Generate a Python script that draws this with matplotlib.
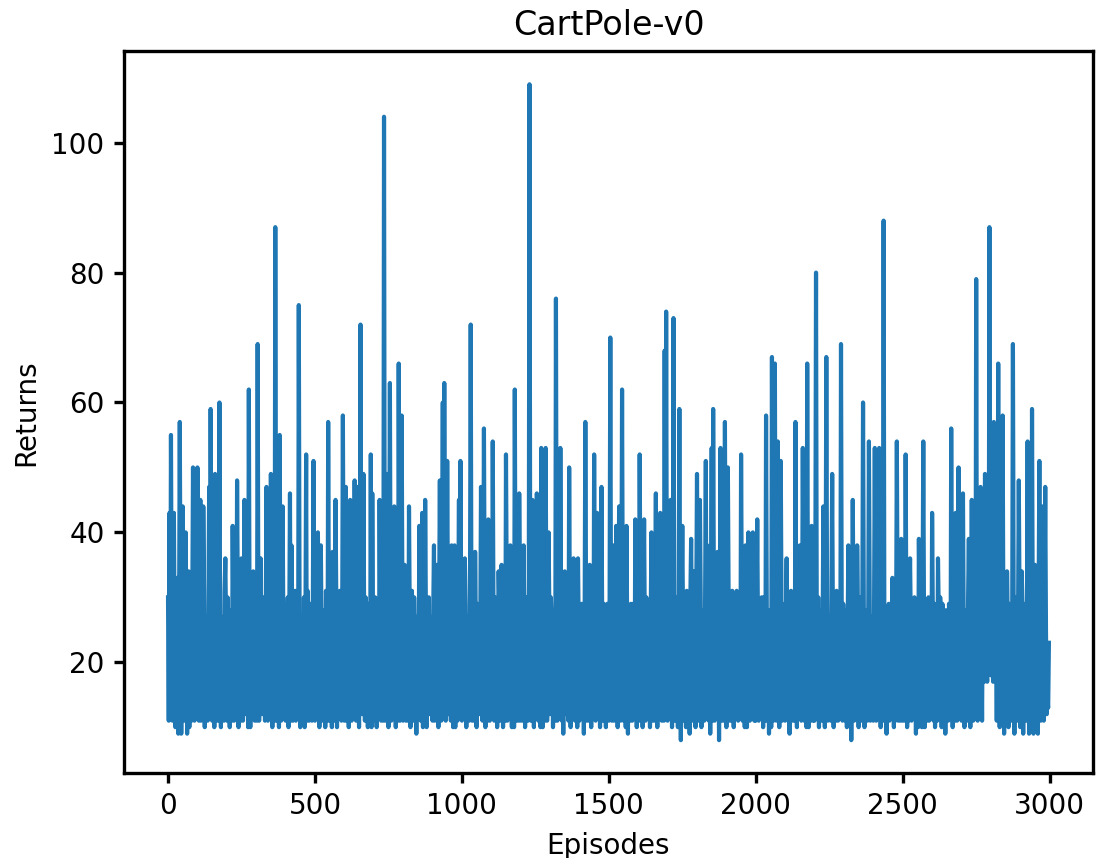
import numpy as np
import matplotlib
matplotlib.use('Agg')
import matplotlib.pyplot as plt

# Returns per episode, one reading every 2.5 episodes,
# 40 readings per 100 episodes on each line
returns = [
    30, 11, 43, 12, 55, 26, 11, 30, 43, 23, 10, 28, 24, 33, 9, 25, 57, 29, 9, 22, 44, 31, 11, 27, 40, 26, 9, 30, 34, 10, 22, 23, 11, 28, 50, 33, 11, 25, 25, 13,
    50, 29, 11, 22, 45, 11, 22, 12, 44, 31, 10, 26, 27, 24, 11, 30, 47, 12, 59, 28, 11, 33, 25, 10, 49, 11, 41, 25, 11, 29, 60, 23, 10, 27, 22, 24, 11, 31, 36, 26,
    11, 30, 26, 24, 10, 28, 23, 11, 41, 27, 11, 25, 29, 12, 48, 30, 10, 26, 24, 11, 36, 29, 11, 23, 45, 27, 12, 31, 24, 10, 62, 25, 10, 28, 23, 12, 34, 24, 11, 30,
    22, 11, 69, 26, 11, 29, 36, 24, 12, 30, 27, 23, 11, 27, 47, 31, 11, 25, 26, 12, 49, 28, 10, 26, 24, 11, 87, 30, 11, 24, 28, 10, 55, 27, 11, 29, 44, 25, 12, 28,
    11, 27, 24, 30, 10, 25, 46, 11, 38, 28, 11, 24, 27, 31, 11, 26, 25, 12, 75, 29, 10, 27, 23, 25, 11, 30, 10, 24, 52, 11, 31, 28, 11, 23, 25, 29, 11, 26, 51, 30,
    11, 25, 28, 12, 40, 27, 10, 30, 38, 24, 11, 28, 22, 26, 10, 31, 26, 11, 57, 25, 11, 29, 24, 10, 37, 27, 11, 23, 45, 30, 10, 26, 24, 12, 31, 28, 11, 24, 58, 29,
    11, 26, 47, 11, 23, 28, 10, 25, 45, 30, 11, 24, 27, 12, 48, 27, 11, 29, 47, 23, 10, 31, 72, 26, 12, 28, 49, 25, 11, 30, 25, 27, 10, 29, 24, 11, 52, 10, 46, 26,
    11, 24, 30, 27, 10, 29, 24, 12, 45, 25, 11, 31, 28, 11, 104, 26, 11, 28, 49, 23, 10, 30, 63, 25, 11, 27, 35, 12, 44, 29, 10, 24, 26, 11, 66, 28, 11, 26, 58, 30,
    11, 27, 35, 24, 11, 29, 24, 11, 44, 26, 10, 28, 31, 23, 11, 30, 23, 25, 9, 27, 25, 12, 41, 29, 11, 24, 43, 10, 27, 11, 45, 28, 10, 26, 25, 30, 12, 27, 22, 24,
    11, 28, 38, 11, 22, 12, 35, 26, 10, 29, 48, 25, 11, 30, 60, 12, 63, 27, 11, 24, 51, 29, 12, 26, 25, 11, 38, 28, 10, 25, 38, 10, 23, 30, 11, 27, 45, 12, 51, 26,
    11, 25, 27, 12, 36, 29, 10, 27, 23, 24, 11, 30, 72, 26, 11, 28, 30, 11, 37, 25, 10, 29, 22, 27, 12, 24, 47, 30, 11, 26, 56, 28, 10, 23, 26, 11, 42, 27, 11, 29,
    24, 12, 54, 26, 11, 30, 25, 27, 10, 24, 34, 29, 11, 25, 35, 28, 10, 26, 28, 11, 52, 30, 11, 27, 24, 12, 38, 25, 10, 29, 27, 10, 62, 28, 11, 26, 22, 11, 46, 30,
    11, 28, 25, 11, 38, 26, 10, 30, 24, 27, 11, 25, 109, 29, 11, 24, 45, 28, 10, 26, 28, 12, 46, 30, 11, 27, 23, 10, 53, 25, 10, 29, 24, 11, 53, 27, 11, 24, 40, 28,
    12, 30, 27, 25, 10, 28, 22, 11, 76, 26, 11, 29, 24, 12, 53, 27, 11, 25, 9, 30, 34, 24, 12, 28, 26, 11, 50, 26, 10, 29, 24, 12, 36, 27, 11, 30, 24, 10, 36, 25,
    11, 26, 28, 29, 12, 27, 9, 24, 57, 30, 11, 28, 23, 11, 35, 25, 10, 29, 27, 12, 52, 26, 11, 28, 43, 24, 12, 30, 10, 27, 47, 25, 11, 29, 25, 26, 10, 24, 29, 28,
    11, 27, 70, 25, 11, 30, 38, 11, 23, 12, 41, 28, 10, 26, 44, 29, 11, 24, 62, 27, 11, 30, 25, 10, 41, 26, 9, 28, 24, 11, 29, 25, 11, 29, 22, 12, 42, 27, 10, 30,
    24, 11, 52, 28, 11, 26, 10, 29, 42, 24, 11, 30, 27, 25, 12, 28, 10, 27, 40, 11, 23, 26, 11, 29, 46, 24, 10, 28, 24, 12, 43, 30, 11, 25, 26, 11, 68, 12, 74, 27,
    11, 25, 28, 12, 45, 29, 10, 26, 73, 28, 11, 30, 22, 24, 10, 27, 59, 25, 8, 29, 41, 26, 11, 28, 24, 10, 31, 27, 11, 25, 9, 30, 39, 24, 11, 28, 34, 26, 10, 29,
    49, 27, 11, 25, 45, 30, 10, 28, 24, 26, 11, 29, 51, 12, 38, 24, 11, 28, 9, 26, 53, 11, 59, 30, 11, 25, 27, 12, 37, 27, 8, 24, 53, 29, 11, 26, 24, 11, 57, 28,
    10, 26, 50, 29, 11, 25, 22, 11, 31, 27, 10, 30, 12, 24, 31, 28, 11, 26, 25, 12, 52, 29, 11, 27, 24, 10, 38, 25, 10, 30, 40, 26, 11, 28, 23, 12, 40, 24, 11, 29,
    11, 28, 42, 25, 11, 29, 25, 12, 30, 26, 10, 30, 24, 11, 58, 27, 11, 24, 9, 28, 23, 10, 67, 26, 11, 29, 66, 25, 11, 30, 54, 27, 10, 24, 51, 28, 11, 26, 27, 29,
    11, 25, 36, 12, 23, 28, 9, 26, 31, 29, 11, 27, 24, 11, 57, 30, 10, 25, 22, 12, 38, 28, 11, 24, 53, 29, 11, 26, 27, 10, 66, 28, 10, 30, 24, 11, 41, 25, 11, 27,
    11, 29, 80, 26, 12, 30, 10, 24, 28, 27, 11, 25, 44, 28, 10, 26, 67, 30, 11, 27, 23, 24, 11, 29, 49, 25, 10, 28, 25, 11, 31, 26, 11, 30, 24, 12, 69, 27, 11, 29,
    24, 26, 11, 28, 10, 25, 38, 30, 11, 27, 8, 24, 45, 29, 11, 26, 27, 12, 38, 28, 10, 30, 22, 25, 11, 27, 60, 29, 10, 26, 24, 28, 11, 24, 54, 30, 11, 27, 26, 25,
    11, 28, 53, 26, 11, 29, 23, 12, 53, 27, 10, 30, 26, 11, 88, 25, 11, 28, 9, 26, 21, 29, 11, 24, 28, 12, 33, 27, 10, 30, 11, 25, 54, 28, 11, 26, 25, 11, 39, 29,
    11, 27, 24, 11, 52, 25, 10, 28, 11, 30, 36, 26, 11, 29, 27, 12, 30, 24, 9, 28, 22, 10, 39, 27, 11, 25, 10, 29, 54, 26, 10, 28, 24, 11, 29, 30, 11, 27, 23, 12,
    43, 26, 11, 29, 10, 25, 23, 11, 36, 28, 12, 30, 24, 10, 29, 26, 11, 28, 9, 24, 28, 27, 11, 29, 24, 12, 56, 25, 10, 30, 23, 11, 43, 28, 11, 26, 50, 24, 12, 29,
    11, 27, 46, 25, 10, 28, 22, 26, 11, 30, 39, 24, 10, 29, 45, 27, 11, 28, 24, 12, 79, 26, 11, 30, 26, 12, 47, 25, 11, 29, 21, 17, 49, 18, 20, 17, 25, 19, 87, 20,
    18, 26, 22, 17, 57, 28, 17, 25, 11, 29, 66, 26, 10, 30, 12, 24, 58, 27, 9, 28, 23, 11, 34, 26, 10, 29, 24, 27, 11, 25, 69, 28, 9, 30, 25, 24, 11, 27, 48, 29,
    10, 26, 34, 28, 9, 25, 22, 29, 11, 27, 54, 24, 9, 28, 24, 11, 59, 26, 9, 29, 35, 25, 11, 27, 9, 30, 51, 24, 11, 28, 44, 26, 11, 29, 47, 25, 12, 14, 13, 23,
]
episodes = np.arange(len(returns)) * 2.5

# slightly heavier frame and ticks than the defaults
plt.rcParams['axes.linewidth'] = 1.2
plt.rcParams['xtick.major.width'] = 1.2
plt.rcParams['ytick.major.width'] = 1.2

fig = plt.figure(figsize=(5.51, 4.29), dpi=200)
ax = fig.add_axes([0.1125, 0.0991, 0.8793, 0.8409])

ax.plot(episodes, returns)

ax.set_title('CartPole-v0')
ax.set_xlabel('Episodes')
ax.set_ylabel('Returns')

fig.savefig('out.png', dpi=200)
